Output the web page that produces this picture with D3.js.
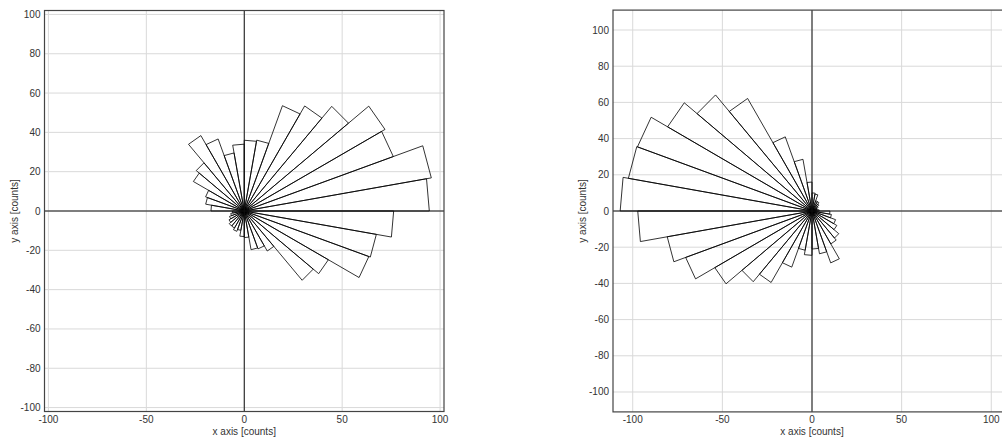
<!DOCTYPE html>
<html>
<head>
<meta charset="utf-8">
<script src="https://cdn.jsdelivr.net/npm/d3@7"></script>
<style>
  body { margin: 0; background: #fff; overflow: hidden; }
  svg { display: block; }
  text { font-family: "Liberation Sans", Arial, sans-serif; fill: #333; }
</style>
</head>
<body>
<div id="chart"></div>
<script>
// 10 degree angular bins, counted anticlockwise from +x
const binStarts = [0, 10, 20, 30, 40, 50, 60, 70, 80, 90, 100, 110, 120, 130, 140, 150, 160, 170,
  180, 190, 200, 210, 220, 230, 240, 250, 260, 270, 280, 290, 300, 310, 320, 330, 340, 350];
const binWidth = 10;

// counts per bin
const leftCounts = [94.5, 97, 81, 83, 69.5, 61.7, 57, 36.6, 36, 34, 30, 39, 44.3, 32, 30, 21, 20, 17,
  6, 7, 8, 9, 10, 10, 11, 10, 13, 13.5, 20, 20.5, 23.5, 46, 49.6, 67.7, 68.5, 76.3];
const rightCounts = [4, 3, 3, 4, 5, 6, 6, 9.5, 10, 16, 29, 43.6, 71.8, 83.7, 93, 103.6, 104, 107,
  97.2, 82, 75, 62.6, 51, 45.6, 33, 22, 24.5, 21, 24, 30.5, 21, 19.5, 16, 14, 11, 10];

// tick labels
const leftXTicks = [-100, -50, 0, 50, 100];
const leftYTicks = [-100, -80, -60, -40, -20, 0, 20, 40, 60, 80, 100];
const rightXTicks = [-100, -50, 0, 50, 100];
const rightYTicks = [-100, -80, -60, -40, -20, 0, 20, 40, 60, 80, 100];

const xTitle = 'x axis [counts]';
const yTitle = 'y axis [counts]';

const width = 1002, height = 441;

const svg = d3.select('#chart').append('svg')
  .attr('width', width)
  .attr('height', height);

function drawPanel(p) {
  const x = d3.scaleLinear().domain(p.xDomain).range(p.xRange);
  const y = d3.scaleLinear().domain(p.yDomain).range(p.yRange);
  const g = svg.append('g');

  // grid
  g.append('g').selectAll('line.gx')
    .data(p.xTicks)
    .join('line')
    .attr('x1', d => x(d)).attr('x2', d => x(d))
    .attr('y1', p.yRange[1]).attr('y2', p.yRange[0])
    .attr('stroke', '#d9d9d9').attr('stroke-width', 1);
  g.append('g').selectAll('line.gy')
    .data(p.yTicks)
    .join('line')
    .attr('y1', d => y(d)).attr('y2', d => y(d))
    .attr('x1', p.xRange[0]).attr('x2', p.xRange[1])
    .attr('stroke', '#d9d9d9').attr('stroke-width', 1);

  // wedges
  const line = d3.line().x(d => x(d[0])).y(d => y(d[1]));
  const rad = Math.PI / 180;
  g.append('g').selectAll('path')
    .data(binStarts.map((a, i) => ({ a0: a, a1: a + binWidth, r: p.counts[i] })))
    .join('path')
    .attr('d', d => line([
      [0, 0],
      [d.r * Math.cos(d.a0 * rad), d.r * Math.sin(d.a0 * rad)],
      [d.r * Math.cos(d.a1 * rad), d.r * Math.sin(d.a1 * rad)]
    ]) + 'Z')
    .attr('fill', 'none')
    .attr('stroke', '#000')
    .attr('stroke-width', 0.8)
    .attr('stroke-linejoin', 'miter');

  // axes through origin
  g.append('line')
    .attr('x1', p.xRange[0]).attr('x2', p.xRange[1])
    .attr('y1', y(0)).attr('y2', y(0))
    .attr('stroke', '#111').attr('stroke-width', 1);
  g.append('line')
    .attr('x1', x(0)).attr('x2', x(0))
    .attr('y1', p.yRange[1]).attr('y2', p.yRange[0])
    .attr('stroke', '#111').attr('stroke-width', 1);

  // frame
  g.append('rect')
    .attr('x', p.xRange[0]).attr('y', p.yRange[1])
    .attr('width', p.xRange[1] - p.xRange[0])
    .attr('height', p.yRange[0] - p.yRange[1])
    .attr('fill', 'none')
    .attr('stroke', '#444')
    .attr('stroke-width', 1.2);

  // tick labels
  g.append('g').selectAll('text')
    .data(p.xTicks)
    .join('text')
    .attr('x', d => x(d))
    .attr('y', p.yRange[0] + 11)
    .attr('text-anchor', 'middle')
    .style('font-size', '10px')
    .text(d => d);
  g.append('g').selectAll('text')
    .data(p.yTicks)
    .join('text')
    .attr('x', p.xRange[0] - 4)
    .attr('y', d => y(d) + 3.5)
    .attr('text-anchor', 'end')
    .style('font-size', '10px')
    .text(d => d);

  // titles
  g.append('text')
    .attr('x', x(0))
    .attr('y', 435)
    .attr('text-anchor', 'middle')
    .style('font-size', '10px')
    .text(xTitle);
  g.append('text')
    .attr('transform', `translate(${p.yTitleX},${y(0)}) rotate(-90)`)
    .attr('text-anchor', 'middle')
    .style('font-size', '10px')
    .text(yTitle);
}

drawPanel({
  counts: leftCounts,
  xDomain: [-102, 102], xRange: [44.5, 444],
  yDomain: [-102, 102], yRange: [411.5, 10.5],
  xTicks: leftXTicks, yTicks: leftYTicks,
  yTitleX: 18
});

drawPanel({
  counts: rightCounts,
  xDomain: [-111, 111], xRange: [613, 1011],
  yDomain: [-111, 111], yRange: [411.9, 10.1],
  xTicks: rightXTicks, yTicks: rightYTicks,
  yTitleX: 586
});
</script>
</body>
</html>
